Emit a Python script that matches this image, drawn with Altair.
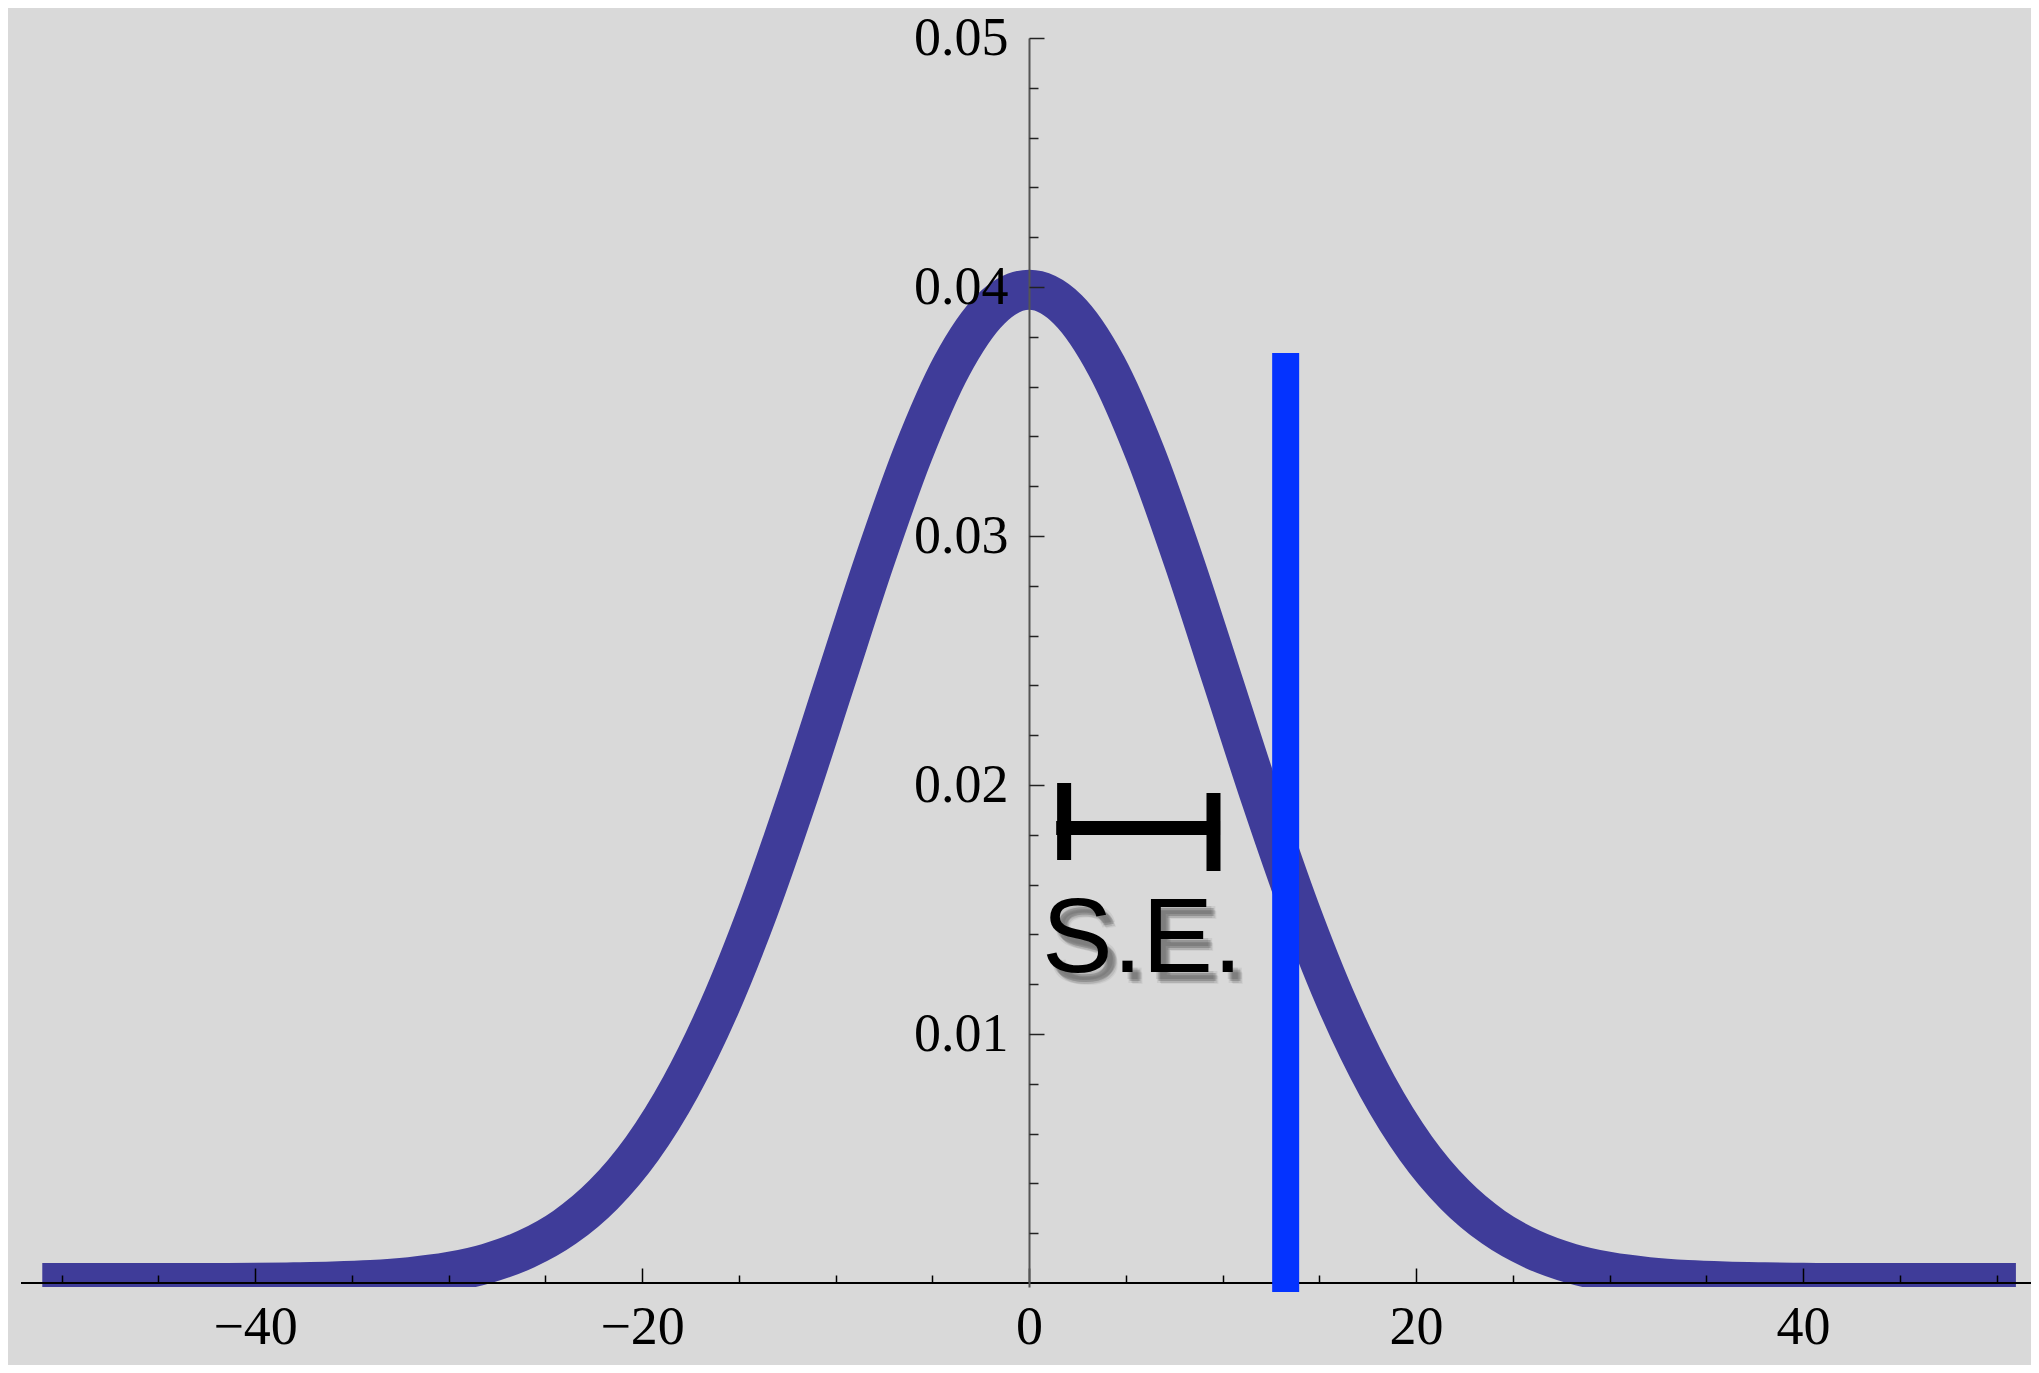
import altair as alt
import pandas as pd

# ---- data ----
curve_x = [-51, -50, -48, -46, -44, -42, -40, -38, -36, -34, -32, -30, -28, -26, -24, -22,
           -20, -18, -16, -14, -12, -10, -8, -6, -4, -2, 0, 2, 4, 6, 8, 10, 12, 14, 16, 18,
           20, 22, 24, 26, 28, 30, 32, 34, 36, 38, 40, 42, 44, 46, 48, 50, 51]
curve_y = [0.0, 0.0, 0.0, 0.0, 0.0, 0.0, 0.00001, 0.00003, 0.00006, 0.00012, 0.00024, 0.00044,
           0.00079, 0.00136, 0.00224, 0.00355, 0.00540, 0.00790, 0.01109, 0.01497, 0.01942,
           0.02420, 0.02897, 0.03332, 0.03683, 0.03910, 0.03989, 0.03910, 0.03683, 0.03332,
           0.02897, 0.02420, 0.01942, 0.01497, 0.01109, 0.00790, 0.00540, 0.00355, 0.00224,
           0.00136, 0.00079, 0.00044, 0.00024, 0.00012, 0.00006, 0.00003, 0.00001, 0.0, 0.0,
           0.0, 0.0, 0.0, 0.0]

# observed value marker
marker_x = [13.26]
marker_y0 = [-0.00036]
marker_y1 = [0.03735]

# S.E. bracket segments (x, y, x2, y2)
br_x = [1.81, 9.53, 1.40]
br_y = [0.02008, 0.01968, 0.01827]
br_x2 = [1.81, 9.53, 9.87]
br_y2 = [0.01699, 0.01655, 0.01827]

label_text = ["S.E."]
label_x = [0.67]
label_y = [0.01249]

x_label_values = [-40, -20, 0, 20, 40]
y_label_values = [0.01, 0.02, 0.03, 0.04, 0.05]
x_tick_values = [-50, -45, -40, -35, -30, -25, -20, -15, -10, -5, 0, 5, 10, 15, 20, 25,
                 30, 35, 40, 45, 50]
y_tick_values = [0.002, 0.004, 0.006, 0.008, 0.01, 0.012, 0.014, 0.016, 0.018, 0.02,
                 0.022, 0.024, 0.026, 0.028, 0.03, 0.032, 0.034, 0.036, 0.038, 0.04,
                 0.042, 0.044, 0.046, 0.048, 0.05]

X_DOMAIN = [-52.1, 51.78]
Y_DOMAIN = [-0.00016, 0.05]
W, H = 2010, 1249
X0_PX = 1008          # pixel of x = 0 inside the plot
Y0_PX = 1245          # pixel of y = 0 inside the plot

xs = alt.Scale(domain=X_DOMAIN, nice=False, zero=False)
ys = alt.Scale(domain=Y_DOMAIN, nice=False, zero=False)

curve_df = pd.DataFrame({"x": curve_x, "y": curve_y})
marker_df = pd.DataFrame({"x": marker_x, "y": marker_y0, "y2": marker_y1})
br_df = pd.DataFrame({"x": br_x, "y": br_y, "x2": br_x2, "y2": br_y2})
lab_df = pd.DataFrame({"t": label_text, "x": label_x, "y": label_y})
zero_df = pd.DataFrame({"y": [0.0]})

serif = "Liberation Serif"

x_label_axis = alt.Axis(orient="bottom", values=x_label_values, format="d", ticks=False,
                        tickSize=0, domain=False, grid=False, title=None,
                        labelFont=serif, labelFontSize=54, labelColor="black",
                        labelPadding=17, offset=-4, labelFlush=False, labelOverlap=False,
                        zindex=1)
y_label_axis = alt.Axis(orient="left", values=y_label_values, format=".2f", ticks=False,
                        tickSize=0, domain=True, domainColor="#555555", domainWidth=2,
                        grid=False, title=None, labelFont=serif, labelFontSize=54,
                        labelColor="black", labelPadding=21, offset=-X0_PX,
                        labelFlush=False, labelOverlap=False, zindex=1)
x_tick_axis = alt.Axis(orient="top", values=x_tick_values, labels=False, domain=False,
                       grid=False, title=None, ticks=True, tickColor="black", tickWidth=1.5,
                       tickSize={"condition": {"test": "abs(datum.value % 20) < 0.001",
                                               "value": 15}, "value": 8},
                       offset=-Y0_PX, zindex=1)
y_tick_axis = alt.Axis(orient="right", values=y_tick_values, labels=False, domain=False,
                       grid=False, title=None, ticks=True, tickColor="#222222", tickWidth=1.5,
                       tickSize={"condition": {"test": "abs(datum.value*100 - round(datum.value*100)) < 0.001",
                                               "value": 15}, "value": 9},
                       offset=X0_PX - W, zindex=1)

curve = alt.Chart(curve_df).mark_line(
    color="#3f3c99", strokeWidth=40, clip=True, interpolate="monotone", strokeCap="butt"
).encode(
    x=alt.X("x:Q", scale=xs, axis=x_label_axis),
    y=alt.Y("y:Q", scale=ys, axis=y_label_axis),
)

zero_line = alt.Chart(zero_df).mark_rule(color="black", strokeWidth=2).encode(
    y=alt.Y("y:Q", scale=ys, axis=None)
)

marker = alt.Chart(marker_df).mark_rule(color="#0433ff", strokeWidth=27, strokeCap="butt").encode(
    x=alt.X("x:Q", scale=xs, axis=x_tick_axis),
    y=alt.Y("y:Q", scale=ys, axis=y_tick_axis),
    y2="y2:Q",
)

bracket = alt.Chart(br_df).mark_rule(color="black", strokeWidth=14, strokeCap="butt").encode(
    x=alt.X("x:Q", scale=xs, axis=None),
    y=alt.Y("y:Q", scale=ys, axis=None),
    x2="x2:Q",
    y2="y2:Q",
)

shadow_layers = []
for dx, dy, op in [(5, 7, 0.10), (7, 9, 0.14), (9, 11, 0.10), (6, 11, 0.08), (9, 7, 0.08),
                   (8, 9, 0.12), (10, 12, 0.06)]:
    shadow_layers.append(
        alt.Chart(lab_df).mark_text(
            font="Liberation Sans", fontSize=106, align="left", baseline="alphabetic",
            color="#333333", opacity=op, dx=dx, dy=dy
        ).encode(
            x=alt.X("x:Q", scale=xs, axis=None),
            y=alt.Y("y:Q", scale=ys, axis=None),
            text="t:N",
        )
    )

label = alt.Chart(lab_df).mark_text(
    font="Liberation Sans", fontSize=106, align="left", baseline="alphabetic", color="black"
).encode(
    x=alt.X("x:Q", scale=xs, axis=None),
    y=alt.Y("y:Q", scale=ys, axis=None),
    text="t:N",
)

chart = alt.layer(curve, zero_line, marker, bracket, *shadow_layers, label).properties(
    width=W, height=H,
    autosize=alt.AutoSizeParams(type="none"),
    padding={"left": 13, "top": 30, "right": 0, "bottom": 78},
    background="#d9d9d9",
).configure_view(stroke=None)

chart.save("out.html", embed_options={"renderer": "svg", "actions": False})
